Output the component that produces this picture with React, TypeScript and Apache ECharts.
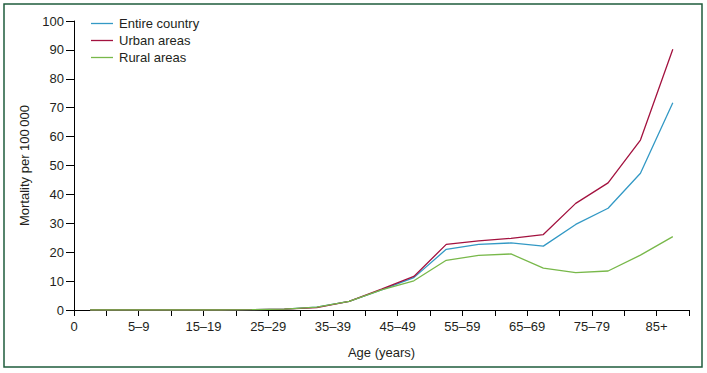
import React, { useEffect, useRef } from "react";
import * as echarts from "echarts";

const ageGroups = ["0", "1–4", "5–9", "10–14", "15–19", "20–24", "25–29", "30–34", "35–39", "40–44", "45–49", "50–54", "55–59", "60–64", "65–69", "70–74", "75–79", "80–84", "85+"];
const entireCountry = [0, 0, 0, 0, 0, 0.1, 0.3, 1.0, 3.0, 7.0, 11.2, 21.0, 22.7, 23.2, 22.1, 29.6, 35.2, 47.3, 71.7];
const urbanAreas = [0, 0, 0, 0, 0, 0.1, 0.3, 0.8, 3.0, 7.2, 11.6, 22.7, 23.9, 24.8, 26.1, 36.9, 44.0, 58.8, 90.2];
const ruralAreas = [0, 0, 0, 0, 0, 0.1, 0.3, 1.0, 3.0, 7.0, 10.1, 17.2, 18.9, 19.4, 14.5, 12.9, 13.5, 19.0, 25.4];

const FONT = "'Liberation Sans', Arial, sans-serif";
const TEXT = "#231f20";

const toPoints = (arr: number[]) => arr.map((v, i) => [i + 0.5, v]);

export default function App() {
  const ref = useRef<HTMLDivElement>(null);
  useEffect(() => {
    if (!ref.current) return;
    const chart = echarts.init(ref.current, undefined, { renderer: "svg" });
    const lineSeries = (name: string, data: number[], color: string) => ({
      name,
      type: "line",
      data: toPoints(data),
      symbol: "none",
      lineStyle: { color, width: 1.3 },
      itemStyle: { color },
    });
    chart.setOption({
      animation: false,
      backgroundColor: "#ffffff",
      textStyle: { fontFamily: FONT },
      grid: { left: 74, right: 18, top: 21, bottom: 63 },
      legend: {
        orient: "vertical",
        left: 86,
        top: 12,
        icon: "rect",
        itemWidth: 22,
        itemHeight: 1.3,
        itemGap: 4,
        textStyle: { fontFamily: FONT, fontSize: 13, color: TEXT, padding: [0, 0, 0, 1] },
        data: ["Entire country", "Urban areas", "Rural areas"],
      },
      xAxis: {
        type: "value",
        min: 0,
        max: 19,
        interval: 1,
        name: "Age (years)",
        nameLocation: "middle",
        nameGap: 36,
        nameTextStyle: { fontFamily: FONT, fontSize: 13, color: TEXT },
        axisLine: { lineStyle: { color: "#000", width: 1 } },
        axisTick: { show: true, length: 6, lineStyle: { color: "#000" } },
        axisLabel: {
          fontFamily: FONT,
          fontSize: 13,
          color: TEXT,
          margin: 10,
          showMaxLabel: true,
          formatter: (v: number) => (Number.isInteger(v) && v % 2 === 0 && v < ageGroups.length ? ageGroups[v] : ""),
        },
        splitLine: { show: false },
      },
      yAxis: {
        type: "value",
        min: 0,
        max: 100,
        interval: 10,
        name: "Mortality per 100\u2009000",
        nameLocation: "middle",
        nameGap: 42,
        nameTextStyle: { fontFamily: FONT, fontSize: 13, color: TEXT },
        axisLine: { show: true, lineStyle: { color: "#000", width: 1 } },
        axisTick: { show: true, length: 8, lineStyle: { color: "#000" } },
        axisLabel: { fontFamily: FONT, fontSize: 13, color: TEXT, margin: 10 },
        splitLine: { show: false },
      },
      graphic: [
        {
          type: "rect",
          shape: { x: 4, y: 4, width: 698, height: 363 },
          style: { fill: "none", stroke: "#1f5c3d", lineWidth: 1.5 },
          silent: true,
        },
      ],
      series: [
        lineSeries("Entire country", entireCountry, "#3399c5"),
        lineSeries("Urban areas", urbanAreas, "#a3123f"),
        lineSeries("Rural areas", ruralAreas, "#78b84a"),
      ],
    });
    return () => chart.dispose();
  }, []);
  return <div ref={ref} style={{ position: "fixed", left: 0, top: 0, width: 707, height: 373 }} />;
}
